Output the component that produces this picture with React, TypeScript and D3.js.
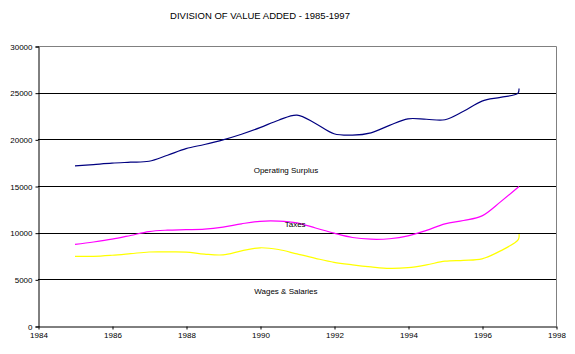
import React, { useEffect, useRef } from "react";
import * as d3 from "d3";

// half-yearly readings, last point of some series repeats 1997 (spline hook in original)
const surplusYears = [1985, 1985.5, 1986, 1986.5, 1987, 1987.5, 1988, 1988.5, 1989, 1989.5, 1990, 1990.5, 1991, 1991.5, 1992, 1992.5, 1993, 1993.5, 1994, 1994.5, 1995, 1995.5, 1996, 1996.5, 1996.97, 1997];
const surplusValues = [17150, 17300, 17450, 17550, 17650, 18300, 19000, 19450, 19950, 20550, 21250, 22050, 22600, 21700, 20600, 20450, 20700, 21500, 22200, 22150, 22100, 23000, 24100, 24500, 24930, 25450];

const taxYears = [1985, 1985.5, 1986, 1986.5, 1987, 1987.5, 1988, 1988.5, 1989, 1989.5, 1990, 1990.5, 1991, 1991.5, 1992, 1992.5, 1993, 1993.5, 1994, 1994.5, 1995, 1995.5, 1996, 1996.5, 1997];
const taxValues = [8750, 9000, 9300, 9700, 10120, 10270, 10320, 10380, 10600, 10950, 11220, 11240, 11050, 10500, 9950, 9480, 9300, 9350, 9650, 10250, 10950, 11300, 11800, 13300, 14950];

const wageYears = [1985, 1985.5, 1986, 1986.5, 1987, 1987.5, 1988, 1988.5, 1989, 1989.5, 1990, 1990.5, 1991, 1991.5, 1992, 1992.5, 1993, 1993.5, 1994, 1994.5, 1995, 1995.5, 1996, 1996.5, 1996.98, 1997];
const wageValues = [7460, 7460, 7580, 7750, 7930, 7940, 7920, 7700, 7620, 8050, 8380, 8200, 7720, 7250, 6820, 6550, 6330, 6170, 6250, 6550, 6950, 7040, 7200, 8050, 9250, 9850];

const yTicks = [0, 5000, 10000, 15000, 20000, 25000, 30000];
const xTicks = [1984, 1986, 1988, 1990, 1992, 1994, 1996, 1998];

const seriesNames = ["Operating Surplus", "Taxes", "Wages & Salaries"];
const seriesColors = ["#000080", "#FF00FF", "#FFFF00"];
// where each series name sits (year, value)
const labelYears = [1990.7, 1990.95, 1990.7];
const labelValues = [16650, 10900, 3750];

const title = "DIVISION OF VALUE ADDED - 1985-1997";

const App = () => {
  const svgRef = useRef<SVGSVGElement>(null);

  useEffect(() => {
    const width = 575;
    const height = 354;
    const margin = { top: 46, right: 19, bottom: 28, left: 38 };
    const font = "Arial, 'Liberation Sans', sans-serif";

    const svg = d3.select(svgRef.current);
    svg.selectAll("*").remove();

    const x = d3.scaleLinear().domain([1984, 1998]).range([margin.left, width - margin.right]);
    const y = d3.scaleLinear().domain([0, 30000]).range([height - margin.bottom, margin.top]);

    // title
    svg.append("text")
      .attr("x", 260)
      .attr("y", 19)
      .attr("text-anchor", "middle")
      .style("font-family", font)
      .style("font-size", "9.5px")
      .text(title);

    // plot border (gray top/right)
    svg.append("path")
      .attr("d", `M${x(1984)},${y(30000) + 0.5}H${x(1998) + 0.5}V${y(0)}`)
      .attr("fill", "none")
      .attr("stroke", "#808080")
      .attr("stroke-width", 1);

    // gridlines
    svg.append("g")
      .selectAll("line")
      .data(yTicks.filter(d => d > 0 && d < 30000))
      .join("line")
      .attr("x1", x(1984))
      .attr("x2", x(1998))
      .attr("y1", d => Math.round(y(d)) + 0.5)
      .attr("y2", d => Math.round(y(d)) + 0.5)
      .attr("stroke", "#000")
      .attr("stroke-width", 1);

    // y axis
    const yAxis = svg.append("g")
      .attr("transform", `translate(${x(1984) + 0.5},0.5)`)
      .call(d3.axisLeft(y).tickValues(yTicks).tickSize(3).tickPadding(3).tickFormat(d3.format("d")));
    yAxis.select(".domain").attr("stroke", "#000");
    yAxis.selectAll("text").style("font-family", font).style("font-size", "8px").attr("fill", "#000");

    // x axis
    const xAxis = svg.append("g")
      .attr("transform", `translate(0.5,${Math.round(y(0)) + 0.5})`)
      .call(d3.axisBottom(x).tickValues(xTicks).tickSize(3).tickSizeOuter(0).tickPadding(3).tickFormat(d3.format("d")));
    xAxis.select(".domain").attr("stroke", "#000");
    xAxis.selectAll("text").style("font-family", font).style("font-size", "8px").attr("fill", "#000");

    const series = [
      { years: surplusYears, values: surplusValues },
      { years: taxYears, values: taxValues },
      { years: wageYears, values: wageValues },
    ];

    const line = d3.line<[number, number]>()
      .x(d => x(d[0]))
      .y(d => y(d[1]))
      .curve(d3.curveCatmullRom.alpha(0.5));

    series.forEach((s, i) => {
      const pts: [number, number][] = s.years.map((yr, j) => [yr, s.values[j]]);
      svg.append("path")
        .datum(pts)
        .attr("d", line)
        .attr("fill", "none")
        .attr("stroke", seriesColors[i])
        .attr("stroke-width", 1.2);
    });

    // series labels
    seriesNames.forEach((name, i) => {
      svg.append("text")
        .attr("x", x(labelYears[i]))
        .attr("y", y(labelValues[i]))
        .attr("text-anchor", "middle")
        .attr("dy", "0.35em")
        .style("font-family", font)
        .style("font-size", "8px")
        .text(name);
    });
  }, []);

  return (
    <svg
      ref={svgRef}
      width={575}
      height={354}
      style={{ position: "absolute", left: 0, top: 0, background: "#fff" }}
    ></svg>
  );
};

export default App;
